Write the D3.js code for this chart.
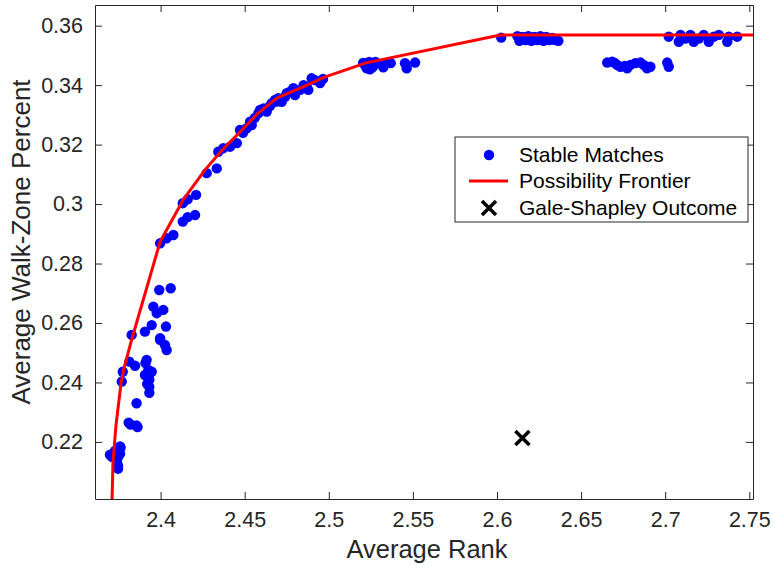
<!DOCTYPE html>
<html>
<head>
<meta charset="utf-8">
<script src="https://cdn.jsdelivr.net/npm/d3@7"></script>
<style>
  body { margin: 0; background: #fff; }
  text { font-family: "Liberation Sans", Arial, Helvetica, sans-serif; }
</style>
</head>
<body>
<svg id="chart" width="774" height="567"></svg>
<script>
// Stable matches: average rank vs. average walk-zone share
const stableRank = [
  2.3699, 2.3711, 2.3717, 2.3729, 2.3735, 2.3741, 2.3747, 2.3747, 2.3753, 2.3759, 2.3762, 2.3735, 2.3747, 2.3759, 2.3741,
  2.3810, 2.3822, 2.3857, 2.3863, 2.3857,
  2.3769, 2.3775, 2.3814, 2.3848, 2.3907, 2.3917, 2.3927, 2.3937, 2.3933, 2.3933, 2.3933, 2.3947, 2.3910, 2.3920,
  2.3828, 2.3907, 2.3947, 2.3997, 2.4032, 2.3957, 2.4016, 2.3977, 2.3992, 2.4060, 2.3997, 2.4026, 2.4036,
  2.3997, 2.4036, 2.4076,
  2.4132, 2.4161, 2.4211, 2.4132, 2.4161, 2.4205, 2.4274,
  2.4334, 2.4343, 2.4373, 2.4413, 2.4453, 2.4472, 2.4512, 2.4542, 2.4532, 2.4581, 2.4591, 2.4631, 2.4661, 2.4680,
  2.4700, 2.4720, 2.4750, 2.4740, 2.4789, 2.4799, 2.4829, 2.4869, 2.4878, 2.4898, 2.4918, 2.4948, 2.4966,
  2.4490, 2.4560, 2.4612, 2.4650, 2.4690, 2.4770, 2.4850,
  2.5204, 2.5210, 2.5230, 2.5250, 2.5270, 2.5225, 2.5245, 2.5277, 2.5324, 2.5334, 2.5368, 2.5453, 2.5463, 2.5513,
  2.5215, 2.5260, 2.5240,
  2.6025, 2.6121, 2.6133, 2.6151, 2.6169, 2.6186, 2.6204, 2.6222, 2.6240, 2.6258, 2.6276, 2.6293, 2.6311, 2.6329,
  2.6345, 2.6365,
  2.6655, 2.6684, 2.6714, 2.6734, 2.6774, 2.6793, 2.6823, 2.6853, 2.6872, 2.6892, 2.6912, 2.7012, 2.7021, 2.6700, 2.6760,
  2.7021, 2.7081, 2.7091, 2.7120, 2.7150, 2.7170, 2.7200, 2.7229, 2.7259, 2.7289, 2.7319, 2.7369, 2.7378, 2.7428
];
const stableWalk = [
  0.2157, 0.2150, 0.2160, 0.2170, 0.2143, 0.2130, 0.2120, 0.2110, 0.2175, 0.2185, 0.2180, 0.2165, 0.2150, 0.2160, 0.2140,
  0.2265, 0.2258, 0.2255, 0.2250, 0.2330,
  0.2403, 0.2436, 0.2470, 0.2456, 0.2425, 0.2476, 0.2442, 0.2432, 0.2409, 0.2385, 0.2365, 0.2436, 0.2465, 0.2395,
  0.2560, 0.2571, 0.2593, 0.2549, 0.2588, 0.2655, 0.2644, 0.2633, 0.2711, 0.2717, 0.2543, 0.2526, 0.2509,
  0.2868, 0.2885, 0.2896,
  0.3003, 0.3016, 0.3031, 0.2941, 0.2956, 0.2963, 0.3104,
  0.3120, 0.3176, 0.3188, 0.3193, 0.3205, 0.3249, 0.3255, 0.3266, 0.3277, 0.3305, 0.3317, 0.3311, 0.3339, 0.3350,
  0.3356, 0.3344, 0.3373, 0.3361, 0.3390, 0.3367, 0.3384, 0.3395, 0.3384, 0.3423, 0.3417, 0.3407, 0.3421,
  0.3240, 0.3290, 0.3322, 0.3330, 0.3345, 0.3378, 0.3400,
  0.3475, 0.3474, 0.3462, 0.3474, 0.3468, 0.3457, 0.3453, 0.3478, 0.3460, 0.3474, 0.3474, 0.3474, 0.3457, 0.3476,
  0.3468, 0.3460, 0.3478,
  0.3560, 0.3565, 0.3549, 0.3562, 0.3552, 0.3565, 0.3549, 0.3562, 0.3552, 0.3565, 0.3549, 0.3562, 0.3552, 0.3559,
  0.3552, 0.3549,
  0.3476, 0.3479, 0.3468, 0.3462, 0.3457, 0.3468, 0.3474, 0.3476, 0.3468, 0.3457, 0.3462, 0.3476, 0.3462, 0.3475, 0.3465,
  0.3563, 0.3546, 0.3569, 0.3557, 0.3569, 0.3546, 0.3557, 0.3569, 0.3546, 0.3563, 0.3569, 0.3546, 0.3563, 0.3563
];

// Upper envelope of the stable set
const frontierRank = [2.3711, 2.3717, 2.3735, 2.3765, 2.3783, 2.3824, 2.3997, 2.4134, 2.4264, 2.4366,
                      2.4473, 2.4580, 2.4693, 2.4830, 2.4979, 2.5222, 2.6020, 2.7600];
const frontierWalk = [0.2000, 0.2133, 0.2257, 0.2398, 0.2449, 0.2536, 0.2873, 0.3014, 0.3115, 0.3182,
                      0.3243, 0.3306, 0.3357, 0.3390, 0.3428, 0.3475, 0.3569, 0.3569];

const galeShapleyRank = [2.6151];
const galeShapleyWalk = [0.2213];

const xTickValues = [2.4, 2.45, 2.5, 2.55, 2.6, 2.65, 2.7, 2.75];
const xTickLabels = ["2.4", "2.45", "2.5", "2.55", "2.6", "2.65", "2.7", "2.75"];
const yTickValues = [0.22, 0.24, 0.26, 0.28, 0.30, 0.32, 0.34, 0.36];
const yTickLabels = ["0.22", "0.24", "0.26", "0.28", "0.3", "0.32", "0.34", "0.36"];
const legendLabels = ["Stable Matches", "Possibility Frontier", "Gale-Shapley Outcome"];

const W = 774, H = 567;
const margin = { left: 95, right: 21, top: 5, bottom: 68 };
const axisColor = "#262626";

const svg = d3.select("#chart");

const x = d3.scaleLinear().domain([2.361, 2.7522]).range([margin.left, W - margin.right]);
const y = d3.scaleLinear().domain([0.2008, 0.36696]).range([H - margin.bottom, margin.top]);

const [x0, x1] = x.range();
const [y0, y1] = y.range(); // y0 bottom, y1 top

svg.append("defs").append("clipPath").attr("id", "plotClip")
  .append("rect").attr("x", x0).attr("y", y1).attr("width", x1 - x0).attr("height", y0 - y1);

const plot = svg.append("g").attr("clip-path", "url(#plotClip)");

// scatter of stable matches
plot.append("g").selectAll("circle")
  .data(d3.range(stableRank.length))
  .join("circle")
  .attr("cx", i => x(stableRank[i]))
  .attr("cy", i => y(stableWalk[i]))
  .attr("r", 5.2)
  .attr("fill", "#0000ff");

// frontier line
const line = d3.line().x(i => x(frontierRank[i])).y(i => y(frontierWalk[i]));
plot.append("path")
  .attr("d", line(d3.range(frontierRank.length)))
  .attr("fill", "none")
  .attr("stroke", "#ff0000")
  .attr("stroke-width", 3)
  .attr("stroke-linejoin", "round");

// Gale-Shapley outcome
const xMark = s => `M${-s},${-s}L${s},${s}M${-s},${s}L${s},${-s}`;
plot.append("g").selectAll("path")
  .data(d3.range(galeShapleyRank.length))
  .join("path")
  .attr("transform", i => `translate(${x(galeShapleyRank[i])},${y(galeShapleyWalk[i])})`)
  .attr("d", xMark(7))
  .attr("stroke", "#000")
  .attr("stroke-width", 3.5)
  .attr("fill", "none");

// axes (boxed, ticks pointing inward on all four sides)
const tickLen = 7;
const bottomAxis = d3.axisBottom(x).tickValues(xTickValues).tickFormat((d, i) => xTickLabels[i])
  .tickSizeInner(-tickLen).tickSizeOuter(0).tickPadding(13);
const topAxis = d3.axisTop(x).tickValues(xTickValues).tickFormat("").tickSizeInner(-tickLen).tickSizeOuter(0);
const leftAxis = d3.axisLeft(y).tickValues(yTickValues).tickFormat((d, i) => yTickLabels[i])
  .tickSizeInner(-tickLen).tickSizeOuter(0).tickPadding(12);
const rightAxis = d3.axisRight(y).tickValues(yTickValues).tickFormat("").tickSizeInner(-tickLen).tickSizeOuter(0);

function styleAxis(g) {
  g.select(".domain").attr("stroke", axisColor).attr("stroke-width", 1);
  g.selectAll(".tick line").attr("stroke", axisColor).attr("stroke-width", 1);
  g.selectAll(".tick text").attr("fill", axisColor).style("font-size", "21.5px")
    .style("font-family", '"Liberation Sans", Arial, Helvetica, sans-serif');
}

svg.append("g").attr("transform", `translate(0,${y0})`).call(bottomAxis).call(styleAxis);
svg.append("g").attr("transform", `translate(0,${y1})`).call(topAxis).call(styleAxis);
svg.append("g").attr("transform", `translate(${x0},0)`).call(leftAxis).call(styleAxis);
svg.append("g").attr("transform", `translate(${x1},0)`).call(rightAxis).call(styleAxis);

// axis titles
svg.append("text")
  .attr("x", 427).attr("y", 558)
  .attr("text-anchor", "middle")
  .attr("fill", axisColor)
  .style("font-size", "25.5px")
  .text("Average Rank");

svg.append("text")
  .attr("transform", `translate(30,${(y0 + y1) / 2 - 10}) rotate(-90)`)
  .attr("text-anchor", "middle")
  .attr("fill", axisColor)
  .style("font-size", "26px")
  .text("Average Walk-Zone Percent");

// legend
const legend = svg.append("g").attr("transform", "translate(455,137)");
legend.append("rect")
  .attr("width", 293).attr("height", 85)
  .attr("fill", "#fff").attr("stroke", axisColor).attr("stroke-width", 1);

const rowY = [18, 44, 71];
legend.append("circle").attr("cx", 34).attr("cy", rowY[0]).attr("r", 5.2).attr("fill", "#0000ff");
legend.append("line").attr("x1", 14).attr("x2", 53).attr("y1", rowY[1]).attr("y2", rowY[1])
  .attr("stroke", "#ff0000").attr("stroke-width", 3);
legend.append("path").attr("transform", `translate(34,${rowY[2]})`).attr("d", xMark(7))
  .attr("stroke", "#000").attr("stroke-width", 3.5).attr("fill", "none");

legend.selectAll("text.lbl")
  .data(legendLabels)
  .join("text")
  .attr("class", "lbl")
  .attr("x", 64)
  .attr("y", (d, i) => rowY[i])
  .attr("dy", "0.35em")
  .attr("fill", "#000")
  .style("font-size", "21px")
  .text(d => d);
</script>
</body>
</html>
